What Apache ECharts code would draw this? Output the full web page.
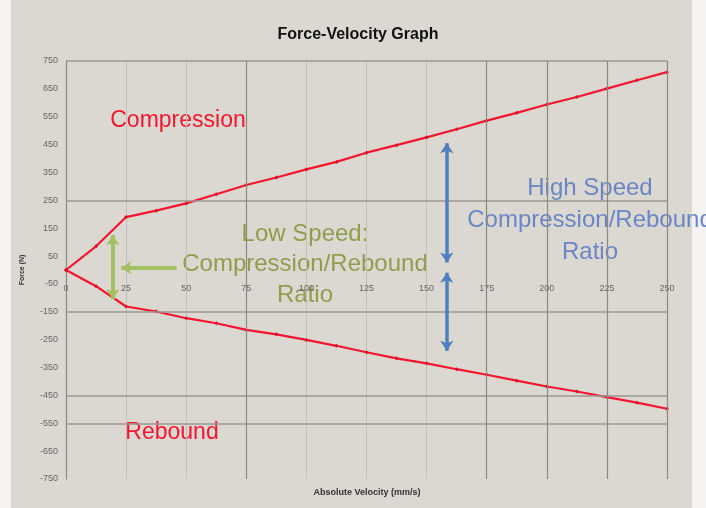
<!DOCTYPE html>
<html><head><meta charset="utf-8">
<script src="https://cdn.jsdelivr.net/npm/echarts@6/dist/echarts.min.js"></script>
<style>html,body{margin:0;padding:0;background:#f4f3f1}#c{width:706px;height:508px}</style>
</head><body><div id="c"></div><script>
// ---- data ----
const velocity = [0, 12.5, 25, 37.5, 50, 62.5, 75, 87.5, 100, 112.5, 125, 137.5, 150, 162.5, 175, 187.5, 200, 212.5, 225, 237.5, 250];
const compression = [0, 85, 190, 213, 239, 272, 305, 332, 361, 388, 421, 448, 476, 505, 536, 564, 594, 621, 651, 681, 710];
const rebound = [0, -58, -131, -149, -173, -191, -215, -231, -251, -272, -295, -317, -335, -356, -376, -397, -418, -436, -456, -476, -498];
const yTickLabels = [750, 650, 550, 450, 350, 250, 150, 50, -50, -150, -250, -350, -450, -550, -650, -750];
const xTickLabels = [0, 25, 50, 75, 100, 125, 150, 175, 200, 225, 250];
const hGridValues = [750, 250, -150, -450, -550];
const vGridDark = [75, 175, 200, 225, 250];

const chart = echarts.init(document.getElementById('c'));
const FONT = 'Liberation Sans, Arial, sans-serif';
const red = '#f5152f';

const GRID = { left: 66, right: 39, top: 61, bottom: 29 };
const yMin = -750, yMax = 750;
const gridH = 508 - GRID.top - GRID.bottom;
// place the x axis on the zero line of the y scale
const xAxisOffset = -gridH * (0 - yMin) / (yMax - yMin);

function pairs(xs, ys) { return xs.map((x, i) => [x, ys[i]]); }

const gridLineStyle = { color: '#9c9890', width: 1.5, type: 'solid' };
const markData = [];
hGridValues.forEach(v => markData.push([{ coord: [0, v], lineStyle: gridLineStyle, symbol: 'none' }, { coord: [250, v], symbol: 'none' }]));
vGridDark.forEach(v => markData.push([{ coord: [v, yMin], lineStyle: { color: '#8c8882', width: 1.2, type: 'solid' }, symbol: 'none' }, { coord: [v, yMax], symbol: 'none' }]));

const blue = { color: '#4f7fbf', width: 3.5, type: 'solid' };
const green = { color: '#a2c062', width: 4, type: 'solid' };
const arrows = [
  [{ coord: [158.4, 455], lineStyle: blue }, { coord: [158.4, 27] }],
  [{ coord: [158.4, -10], lineStyle: blue }, { coord: [158.4, -290] }],
  [{ coord: [19.5, 125], lineStyle: green }, { coord: [19.5, -105] }],
  [{ coord: [46, 8], lineStyle: green, symbol: 'none' }, { coord: [23, 8], symbol: 'arrow' }]
];

chart.setOption({
  animation: false,
  backgroundColor: 'transparent',
  grid: Object.assign({ containLabel: false }, GRID),
  xAxis: {
    type: 'value', min: 0, max: 250, interval: 25, position: 'bottom', offset: xAxisOffset,
    axisLine: { show: false, onZero: false }, axisTick: { show: false },
    axisLabel: { color: '#666', fontSize: 9, fontFamily: FONT, margin: 14,
      formatter: v => xTickLabels.includes(v) ? String(v) : '' },
    splitLine: { show: true, lineStyle: { color: '#c4c0b9', width: 1 } }
  },
  yAxis: {
    type: 'value', min: yMin, max: yMax, interval: 50,
    axisLine: { show: true, onZero: false, lineStyle: { color: '#8e8a84', width: 1.2 } },
    axisTick: { show: false },
    axisLabel: { color: '#666', fontSize: 9, fontFamily: FONT, margin: 8,
      formatter: v => yTickLabels.includes(v) ? String(v) : '' },
    splitLine: { show: false }
  },
  graphic: [
    { type: 'rect', z: -100, shape: { x: 11, y: 0, width: 681, height: 508 }, style: { fill: '#dbd7d1' } },
    { type: 'text', style: { text: 'Force-Velocity Graph', x: 358, y: 35, textAlign: 'center', textVerticalAlign: 'middle', font: 'bold 16px ' + FONT, fill: '#111' } },
    { type: 'text', rotation: Math.PI / 2, x: 22, y: 270, style: { text: 'Force (N)', x: 0, y: 0, textAlign: 'center', textVerticalAlign: 'middle', font: 'bold 7px ' + FONT, fill: '#333' } },
    { type: 'text', style: { text: 'Absolute Velocity (mm/s)', x: 367, y: 493, textAlign: 'center', textVerticalAlign: 'middle', font: 'bold 9px ' + FONT, fill: '#333' } },
    { type: 'text', style: { text: 'Compression', x: 178, y: 121, textAlign: 'center', textVerticalAlign: 'middle', font: '23px ' + FONT, fill: red } },
    { type: 'text', style: { text: 'Rebound', x: 172, y: 433, textAlign: 'center', textVerticalAlign: 'middle', font: '23px ' + FONT, fill: red } },
    { type: 'text', style: { text: 'Low Speed:', x: 305, y: 234, textAlign: 'center', textVerticalAlign: 'middle', font: '24px ' + FONT, fill: '#8f9d4c' } },
    { type: 'text', style: { text: 'Compression/Rebound', x: 305, y: 264, textAlign: 'center', textVerticalAlign: 'middle', font: '24px ' + FONT, fill: '#8f9d4c' } },
    { type: 'text', style: { text: 'Ratio', x: 305, y: 295, textAlign: 'center', textVerticalAlign: 'middle', font: '24px ' + FONT, fill: '#8f9d4c' } },
    { type: 'text', style: { text: 'High Speed', x: 590, y: 188, textAlign: 'center', textVerticalAlign: 'middle', font: '24px ' + FONT, fill: '#6a86c6' } },
    { type: 'text', style: { text: 'Compression/Rebound', x: 590, y: 220, textAlign: 'center', textVerticalAlign: 'middle', font: '24px ' + FONT, fill: '#6a86c6' } },
    { type: 'text', style: { text: 'Ratio', x: 590, y: 252, textAlign: 'center', textVerticalAlign: 'middle', font: '24px ' + FONT, fill: '#6a86c6' } }
  ],
  series: [
    {
      type: 'line', name: 'grid', data: [], silent: true, z: 1,
      markLine: { silent: true, animation: false, label: { show: false }, symbol: 'none', data: markData }
    },
    {
      type: 'line', name: 'Compression', data: pairs(velocity, compression), z: 3,
      lineStyle: { color: red, width: 2.2 }, itemStyle: { color: '#d8102a' },
      symbol: 'diamond', symbolSize: 4, showSymbol: true
    },
    {
      type: 'line', name: 'Rebound', data: pairs(velocity, rebound), z: 3,
      lineStyle: { color: red, width: 2.2 }, itemStyle: { color: '#d8102a' },
      symbol: 'diamond', symbolSize: 4, showSymbol: true
    },
    {
      type: 'line', name: 'arrows', data: [], silent: true, z: 4,
      markLine: { silent: true, animation: false, label: { show: false }, symbol: ['arrow', 'arrow'], symbolSize: [10, 10], data: arrows }
    }
  ]
});
</script></body></html>
